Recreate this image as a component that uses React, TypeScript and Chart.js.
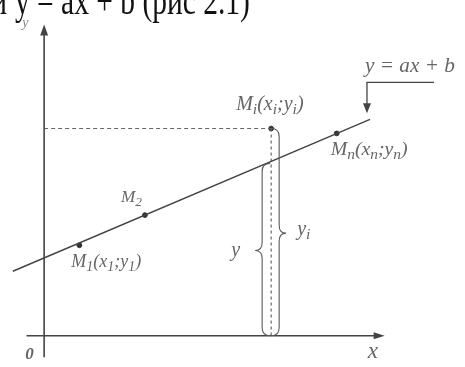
import React, { useEffect, useRef } from "react";
import { Chart, registerables } from "chart.js";

Chart.register(...registerables);

// ---- data (model units) ----
const slopeA = 0.428;
const interceptB = 8.0;
const lineXRange = [-3.2, 33.3];
const pointNames = ["M1", "M2", "Mi", "Mn"];
const pointX = [3.6, 10.3, 23.2, 29.9];
const pointY = [9.3, 12.4, 21.3, 20.8];
const highlightIndex = 2;
const xAxisRange = [-1.8, 34.8];
const yAxisRange = [-2.2, 32.0];
const xView = [-4, 42.5];
const yView = [-2.7, 34.0];

// label parts: [text, isSubscript]
const pointLabelParts: [string, number][][] = [
  [["M", 0], ["1", 1], ["(x", 0], ["1", 1], [";y", 0], ["1", 1], [")", 0]],
  [["M", 0], ["2", 1]],
  [["M", 0], ["i", 1], ["(x", 0], ["i", 1], [";y", 0], ["i", 1], [")", 0]],
  [["M", 0], ["n", 1], ["(x", 0], ["n", 1], [";y", 0], ["n", 1], [")", 0]],
];
// [dx, dy, width] relative to each point, in pixels
const pointLabelBoxes = [
  [-8, 22, 70],
  [-24, -13, 21],
  [-35, -19, 68],
  [-6, 22, 77],
];
const headerLead = "и";
const headerText = "y = ax + b (рис 2.1)";
const equationText = "y = ax + b";

const SERIF = '"Liberation Serif", "Times New Roman", serif';
const INK = "#444";
const TEXT = "#666";

function richWidth(ctx: CanvasRenderingContext2D, parts: [string, number][], size: number) {
  let w = 0;
  for (const [t, sub] of parts) {
    ctx.font = `italic ${sub ? size * 0.78 : size}px ${SERIF}`;
    w += ctx.measureText(t).width;
  }
  return w;
}

function drawRich(ctx: CanvasRenderingContext2D, parts: [string, number][], x: number, y: number, size: number) {
  let cx = x;
  for (const [t, sub] of parts) {
    ctx.font = `italic ${sub ? size * 0.78 : size}px ${SERIF}`;
    ctx.fillText(t, cx, sub ? y + size * 0.2 : y);
    cx += ctx.measureText(t).width;
  }
}

function drawRichFit(ctx: CanvasRenderingContext2D, parts: [string, number][], x: number, y: number, width: number) {
  const w20 = richWidth(ctx, parts, 20);
  const size = Math.min(20, Math.max(12, (20 * width) / w20));
  drawRich(ctx, parts, x, y, size);
}

function brace(ctx: CanvasRenderingContext2D, x0: number, yTop: number, yBot: number, dir: number, d: number, r: number, yMid: number) {
  ctx.beginPath();
  ctx.moveTo(x0 - dir * r, yTop);
  ctx.quadraticCurveTo(x0, yTop, x0, yTop + r);
  ctx.lineTo(x0, yMid - r);
  ctx.quadraticCurveTo(x0, yMid, x0 + dir * d, yMid);
  ctx.quadraticCurveTo(x0, yMid, x0, yMid + r);
  ctx.lineTo(x0, yBot - r);
  ctx.quadraticCurveTo(x0, yBot, x0 - dir * r, yBot);
  ctx.stroke();
}

const decorPlugin = {
  id: "decor",
  afterDatasetsDraw(chart: any) {
    const ctx: CanvasRenderingContext2D = chart.ctx;
    const xs = chart.scales.x;
    const ys = chart.scales.y;
    const px = (v: number) => xs.getPixelForValue(v);
    const py = (v: number) => ys.getPixelForValue(v);
    ctx.save();
    ctx.fillStyle = INK;
    ctx.strokeStyle = INK;
    ctx.lineWidth = 1.2;

    // arrowheads
    const yTip = py(yAxisRange[1]);
    const x0 = px(0);
    ctx.beginPath();
    ctx.moveTo(x0, yTip);
    ctx.lineTo(x0 - 4, yTip + 11);
    ctx.lineTo(x0 + 4, yTip + 11);
    ctx.closePath();
    ctx.fill();
    const xTip = px(xAxisRange[1]);
    const y0 = py(0);
    ctx.beginPath();
    ctx.moveTo(xTip, y0);
    ctx.lineTo(xTip - 11, y0 - 3.5);
    ctx.lineTo(xTip - 11, y0 + 3.5);
    ctx.closePath();
    ctx.fill();

    // braces
    const mx = px(pointX[highlightIndex]);
    const myPt = py(pointY[highlightIndex]);
    const myLine = py(slopeA * pointX[highlightIndex] + interceptB);
    ctx.lineWidth = 1.1;
    ctx.strokeStyle = "#5a5a5a";
    brace(ctx, mx - 9, myLine + 2, y0, -1, 7, 8, (myLine + y0) / 2 + 2);
    brace(ctx, mx + 8, myPt, y0, 1, 7, 8, (myPt + y0) / 2 + 1);

    // leader to the regression line
    const lx = px(lineXRange[1]) - 3;
    const lyTop = py(slopeA * lineXRange[1] + interceptB) - 37;
    ctx.strokeStyle = INK;
    ctx.lineWidth = 1.3;
    ctx.beginPath();
    ctx.moveTo(lx + 67, lyTop);
    ctx.lineTo(lx, lyTop);
    ctx.lineTo(lx, lyTop + 24);
    ctx.stroke();
    ctx.beginPath();
    ctx.moveTo(lx, lyTop + 31);
    ctx.lineTo(lx - 4, lyTop + 21);
    ctx.lineTo(lx + 4, lyTop + 21);
    ctx.closePath();
    ctx.fill();

    // texts
    ctx.fillStyle = TEXT;
    ctx.textBaseline = "alphabetic";
    ctx.textAlign = "left";
    {
      ctx.font = `italic 20px ${SERIF}`;
      const w = ctx.measureText(equationText).width;
      const s = (20 * 90) / w;
      ctx.font = `italic ${s}px ${SERIF}`;
      ctx.fillText(equationText, lx - 2, lyTop - 10);
    }

    pointLabelParts.forEach((parts, i) => {
      const [ox, oy, w] = pointLabelBoxes[i];
      drawRichFit(ctx, parts, px(pointX[i]) + ox, py(pointY[i]) + oy, w);
    });

    ctx.font = `italic 20px ${SERIF}`;
    ctx.fillText("y", mx - 40, (myLine + y0) / 2 + 7);
    drawRich(ctx, [["y", 0], ["i", 1]], mx + 26, (myPt + y0) / 2 + 3, 20);

    ctx.font = `italic 14px ${SERIF}`;
    ctx.fillStyle = "#888";
    ctx.fillText("y", x0 - 22, yTip + 3);
    ctx.fillStyle = TEXT;
    ctx.font = `italic bold 17px ${SERIF}`;
    ctx.fillText("0", x0 - 19, y0 + 23);
    ctx.font = `italic 23px ${SERIF}`;
    ctx.fillText("x", xTip - 17, y0 + 22);

    // header (sentence from the page above, cropped at the top)
    ctx.fillStyle = "#111";
    ctx.font = `30px ${SERIF}`;
    const hw = ctx.measureText(headerText).width;
    const hs = (30 * 235) / hw;
    ctx.save();
    ctx.translate(0, 14);
    ctx.scale(1, 1.35);
    ctx.font = `${hs}px ${SERIF}`;
    ctx.fillText(headerText, 15, 0);
    ctx.textAlign = "right";
    ctx.fillText(headerLead, 7, 0);
    ctx.restore();
    ctx.restore();
  },
};

export default function App() {
  const ref = useRef<HTMLCanvasElement>(null);
  useEffect(() => {
    document.body.style.margin = "0";
    const canvas = ref.current!;
    const lineFn = (x: number) => slopeA * x + interceptB;
    const xi = pointX[highlightIndex];
    const yi = pointY[highlightIndex];
    const chart = new Chart(canvas, {
      type: "scatter",
      data: {
        datasets: [
          {
            type: "line",
            data: [{ x: xAxisRange[0], y: 0 }, { x: xAxisRange[1] - 0.8, y: 0 }],
            borderColor: INK, borderWidth: 1.6, pointRadius: 0,
          },
          {
            type: "line",
            data: [{ x: 0, y: yAxisRange[0] }, { x: 0, y: yAxisRange[1] - 0.8 }],
            borderColor: INK, borderWidth: 1.6, pointRadius: 0,
          },
          {
            type: "line",
            data: lineXRange.map((x) => ({ x, y: lineFn(x) })),
            borderColor: INK, borderWidth: 1.4, pointRadius: 0,
          },
          {
            type: "line",
            data: [{ x: 0, y: yi }, { x: xi, y: yi }],
            borderColor: "#666", borderWidth: 1, borderDash: [4, 3], pointRadius: 0,
          },
          {
            type: "line",
            data: [{ x: xi, y: yi }, { x: xi, y: 0 }],
            borderColor: "#666", borderWidth: 1.2, borderDash: [3, 3], pointRadius: 0,
          },
          {
            type: "scatter",
            data: pointX.map((x, i) => ({ x, y: pointY[i] })),
            backgroundColor: "#333", borderColor: "#333", pointRadius: 2.4,
          },
        ],
      },
      options: {
        animation: false,
        responsive: false,
        events: [],
        layout: { padding: 0 },
        plugins: { legend: { display: false }, tooltip: { enabled: false } },
        scales: {
          x: { type: "linear", min: xView[0], max: xView[1], display: false },
          y: { type: "linear", min: yView[0], max: yView[1], display: false },
        },
      },
      plugins: [decorPlugin],
    });
    return () => chart.destroy();
  }, []);
  return (
    <div style={{ width: 465, height: 367, background: "#fff" }}>
      <canvas ref={ref} width={465} height={367} style={{ display: "block" }} />
    </div>
  );
}
